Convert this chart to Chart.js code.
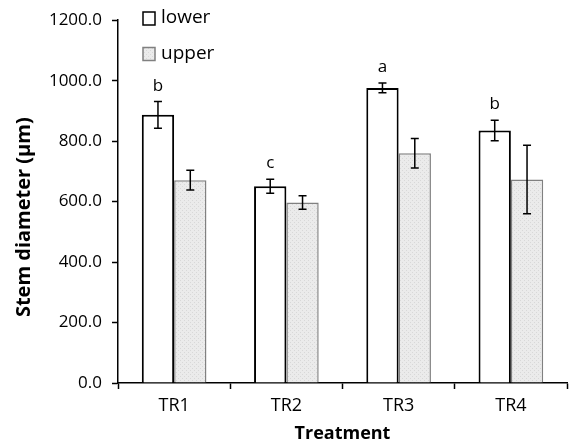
<!DOCTYPE html>
<html>
<head>
<meta charset="utf-8">
<script src="https://cdn.jsdelivr.net/npm/chart.js@4.4.0/dist/chart.umd.min.js"></script>
<style>
html, body { margin: 0; padding: 0; background: #fff; }
#wrap { width: 573px; height: 445px; }
</style>
</head>
<body>
<div id="wrap"><canvas id="stemChart"></canvas></div>
<script>
const treatments = ['TR1', 'TR2', 'TR3', 'TR4']
const lower = [887, 651, 976, 835]
const lowerErr = [44, 23, 16, 34]
const upper = [671, 597, 760, 673]
const upperErr = [33, 22, 49, 113]
const letters = ['b', 'c', 'a', 'b']
const yTicks = [0, 200, 400, 600, 800, 1000, 1200]

const FONT = "'Open Sans', sans-serif"

// fine dotted gray fill like the excel pattern
function dotPattern() {
    const c = document.createElement('canvas')
    c.width = 4
    c.height = 4
    const g = c.getContext('2d')
    g.fillStyle = '#ebebeb'
    g.fillRect(0, 0, 4, 4)
    g.fillStyle = '#d8d8d8'
    g.fillRect(0, 0, 1, 1)
    g.fillRect(2, 2, 1, 1)
    return g.createPattern(c, 'repeat')
}

const errorBars = {
    id: 'errorBars',
    afterDatasetsDraw(chart) {
        const ctx = chart.ctx
        const y = chart.scales.y
        ctx.save()
        chart.data.datasets.forEach((ds, i) => {
            chart.getDatasetMeta(i).data.forEach((bar, j) => {
                const top = y.getPixelForValue(ds.data[j] + ds.errors[j])
                const bot = y.getPixelForValue(ds.data[j] - ds.errors[j])
                ctx.strokeStyle = '#000'
                ctx.lineWidth = 1.5
                ctx.beginPath()
                ctx.moveTo(bar.x, top)
                ctx.lineTo(bar.x, bot)
                ctx.moveTo(bar.x - 4, top)
                ctx.lineTo(bar.x + 4, top)
                ctx.moveTo(bar.x - 4, bot)
                ctx.lineTo(bar.x + 4, bot)
                ctx.stroke()
                if (i == 0) {
                    ctx.fillStyle = '#000'
                    ctx.font = '17px ' + FONT
                    ctx.textAlign = 'center'
                    ctx.textBaseline = 'alphabetic'
                    ctx.fillText(letters[j], bar.x, top - 11)
                }
            })
        })
        ctx.restore()
    }
}

const boxLegend = {
    id: 'boxLegend',
    afterDraw(chart) {
        const ctx = chart.ctx
        ctx.save()
        chart.data.datasets.forEach((ds, i) => {
            const top = 12 + i * 35.5
            ctx.fillStyle = ds.backgroundColor
            ctx.fillRect(143, top, 12, 13)
            ctx.strokeStyle = i == 0 ? '#000' : '#808080'
            ctx.lineWidth = 1.5
            ctx.strokeRect(143, top, 12, 13)
            ctx.fillStyle = '#000'
            ctx.font = '19px ' + FONT
            ctx.textAlign = 'left'
            ctx.textBaseline = 'middle'
            ctx.fillText(ds.label, 161, top + 6)
        })
        ctx.restore()
    }
}

var ctx_stem = document.getElementById('stemChart').getContext('2d')
var stemChart = new Chart(ctx_stem, {
    type: 'bar',
    data: {
        labels: treatments,
        datasets: [{
            label: 'lower',
            data: lower,
            errors: lowerErr,
            backgroundColor: '#ffffff',
            borderColor: '#000000',
            borderWidth: 2
        }, {
            label: 'upper',
            data: upper,
            errors: upperErr,
            backgroundColor: dotPattern(),
            borderColor: '#808080',
            borderWidth: 1.5
        }]
    },
    options: {
        responsive: true,
        maintainAspectRatio: false,
        animation: false,
        datasets: {
            bar: { categoryPercentage: 0.576, barPercentage: 1 }
        },
        layout: { padding: { top: 17, right: 6, left: 0, bottom: 0 } },
        plugins: {
            legend: { display: false },
            tooltip: { enabled: false }
        },
        scales: {
            x: {
                grid: {
                    offset: true,
                    drawOnChartArea: false,
                    tickLength: 6,
                    tickColor: '#000',
                    tickWidth: 1.5
                },
                border: { color: '#000', width: 1.5 },
                ticks: { color: '#000', font: { family: FONT, size: 18 }, padding: 6 },
                title: {
                    display: true,
                    text: 'Treatment',
                    color: '#000',
                    font: { family: FONT, size: 18, weight: 'bold' },
                    padding: { top: 0, bottom: 0 }
                },
                afterFit: s => { s.height = 62 }
            },
            y: {
                min: 0,
                max: 1200,
                afterBuildTicks: s => { s.ticks = yTicks.map(v => ({ value: v })) },
                grid: {
                    drawOnChartArea: false,
                    tickLength: 6,
                    tickColor: '#000',
                    tickWidth: 1.5
                },
                border: { color: '#000', width: 1.5 },
                ticks: {
                    color: '#000',
                    font: { family: FONT, size: 17 },
                    padding: 10,
                    callback: v => v.toFixed(1)
                },
                title: {
                    display: true,
                    text: 'Stem diameter (\u00b5m)      ',
                    color: '#000',
                    font: { family: FONT, size: 20, weight: 'bold' },
                    padding: { top: 12, bottom: 0 }
                },
                afterFit: s => { s.width = 118 }
            }
        }
    },
    plugins: [errorBars, boxLegend]
})
</script>
</body>
</html>
